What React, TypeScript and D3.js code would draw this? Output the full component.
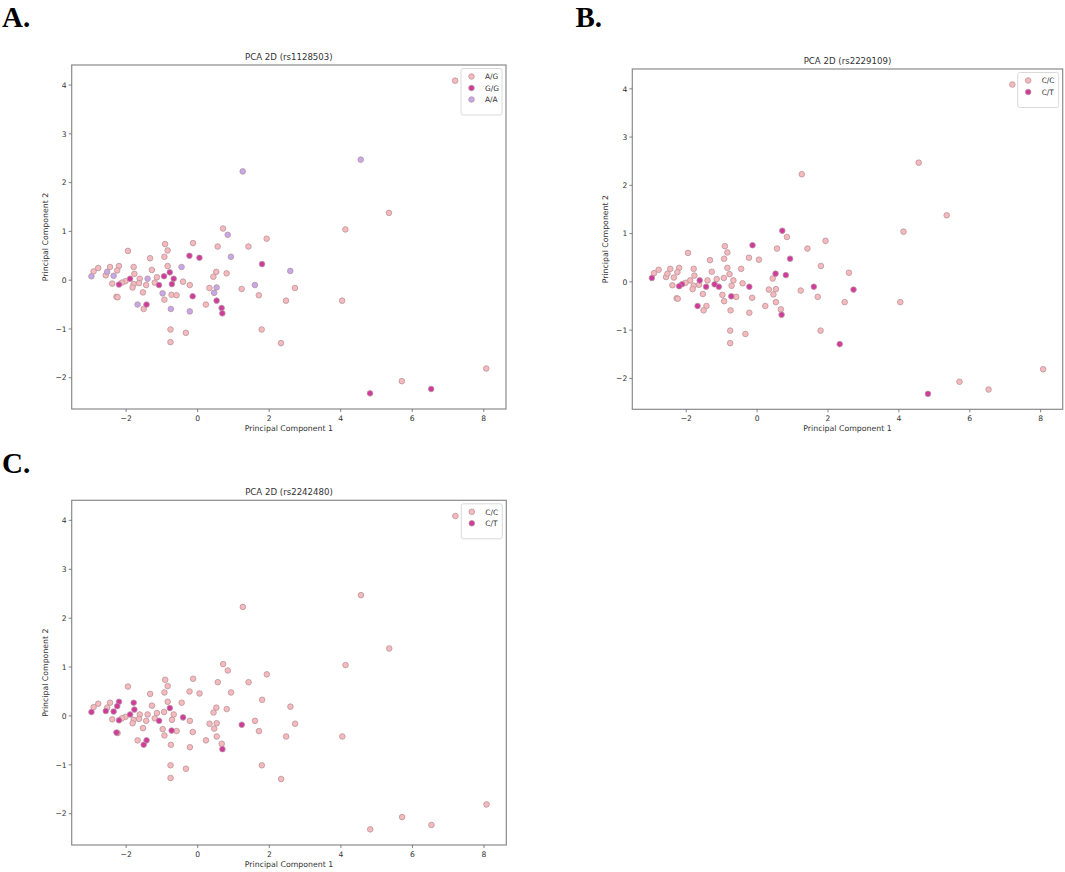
import { useMemo } from 'react';
import * as d3 from 'd3';

// PCA coordinates (same samples in every panel)
const pc1 = [
  7.2, 4.56, 1.26, 5.35, 4.13, 0.71, 0.84, 1.93, 1.42, 0.56,
  -0.13, -0.91, -0.84, -1.95, -0.93, -0.23, 0.05, -1.33, 0.93, 1.80,
  -0.45, -0.84, -1.28, 2.59, 0.52, 0.81, 0.44, -0.78, -0.94, -1.14,
  -0.67, -1.40, -1.62, -1.77, -1.79, -2.20, -2.45, -2.78, -2.91, -2.97,
  -2.57, -2.53, -2.35, -2.25, -1.89, -2.02, -2.12, -2.20, -2.39, -1.79,
  -1.82, -1.64, -1.44, -1.20, -1.08, -0.72, -0.41, -0.22, -1.53, -0.98,
  -0.73, -0.59, -0.14, -2.27, -2.24, -0.93, -1.68, -1.43, -1.51, -0.75,
  -0.22, 0.23, 0.33, 0.53, 0.46, 0.53, 0.67, 0.69, 1.23, 1.60,
  1.71, 2.47, 2.72, 4.04, -0.76, -0.33, -0.76, 1.79, 2.33, 8.07,
  5.71, 6.53, 4.82
];

const pc2 = [
  4.09, 2.47, 2.23, 1.38, 1.04, 1.06, 0.93, 0.85, 0.69, 0.69,
  0.76, 0.74, 0.61, 0.60, 0.48, 0.50, 0.46, 0.45, 0.48, 0.33,
  0.27, 0.29, 0.21, 0.19, 0.17, 0.14, 0.07, 0.16, 0.08, 0.06,
  0.03, 0.03, 0.03, 0.13, 0.27, 0.29, 0.27, 0.25, 0.18, 0.08,
  0.10, 0.17, 0.09, 0.20, 0.03, -0.02, -0.05, -0.09, -0.07, -0.08,
  -0.15, -0.06, -0.10, -0.05, -0.10, -0.08, -0.03, -0.10, -0.25, -0.27,
  -0.30, -0.31, -0.33, -0.34, -0.35, -0.40, -0.50, -0.50, -0.59, -0.59,
  -0.64, -0.50, -0.16, -0.15, -0.26, -0.42, -0.57, -0.68, -0.18, -0.10,
  -0.31, -0.42, -0.16, -0.42, -1.01, -1.08, -1.27, -1.01, -1.29, -1.81,
  -2.07, -2.23, -2.32
];

// genotype per sample, index into the labels list of each SNP
const rs1128503Labels = ['A/G', 'G/G', 'A/A'];
const rs1128503 = [
  0, 2, 2, 0, 0, 0, 2, 0, 0, 0,
  0, 0, 0, 0, 0, 1, 1, 0, 2, 1,
  2, 0, 0, 2, 0, 0, 0, 1, 1, 0,
  1, 2, 0, 0, 0, 0, 0, 0, 0, 2,
  0, 2, 2, 0, 1, 0, 0, 1, 0, 0,
  0, 0, 0, 0, 1, 1, 0, 0, 0, 2,
  0, 0, 1, 0, 0, 0, 2, 1, 0, 2,
  2, 0, 0, 2, 2, 1, 1, 1, 0, 2,
  0, 0, 0, 0, 0, 0, 0, 0, 0, 0,
  0, 1, 1
];

const rs2229109Labels = ['C/C', 'C/T'];
const rs2229109 = [
  0, 0, 0, 0, 0, 1, 0, 0, 0, 0,
  1, 0, 0, 0, 0, 0, 0, 0, 1, 0,
  0, 0, 0, 0, 1, 1, 0, 0, 0, 0,
  0, 0, 1, 0, 0, 0, 0, 0, 0, 1,
  0, 0, 0, 0, 0, 0, 1, 1, 0, 0,
  0, 0, 1, 1, 1, 0, 0, 1, 0, 0,
  1, 0, 0, 0, 0, 0, 1, 0, 0, 0,
  0, 0, 0, 0, 0, 0, 0, 1, 0, 1,
  0, 0, 1, 0, 0, 0, 0, 0, 1, 0,
  0, 0, 1
];

const rs2242480Labels = ['C/C', 'C/T'];
const rs2242480 = [
  0, 0, 0, 0, 0, 0, 0, 0, 0, 0,
  0, 0, 0, 0, 0, 0, 0, 0, 0, 0,
  0, 0, 0, 0, 0, 0, 0, 1, 0, 0,
  0, 0, 0, 1, 1, 1, 0, 0, 0, 1,
  1, 0, 1, 1, 1, 0, 0, 1, 0, 0,
  0, 0, 0, 0, 1, 0, 1, 0, 0, 0,
  1, 0, 0, 1, 0, 0, 0, 1, 1, 0,
  0, 0, 0, 0, 0, 0, 0, 1, 1, 0,
  0, 0, 0, 0, 0, 0, 0, 0, 0, 0,
  0, 0, 0
];

const xTicks = [-2, 0, 2, 4, 6, 8];
const yTicks = [-2, -1, 0, 1, 2, 3, 4];

const FILLS = ['#f6b9bd', '#cf3a9c', '#c6a8ea'];
const EDGE = '#b8969b';
const FONT = '"DejaVu Sans", sans-serif';

interface PanelProps {
  letter: string;
  letterX: number;
  letterY: number;
  title: string;
  labels: string[];
  codes: number[];
  left: number;
  top: number;
  right: number;
  bottom: number;
  yLabelX: number;
}

function Panel({ letter, letterX, letterY, title, labels, codes, left, top, right, bottom, yLabelX }: PanelProps) {
  const { x, y } = useMemo(() => {
    const [x0, x1] = d3.extent(pc1) as [number, number];
    const [y0, y1] = d3.extent(pc2) as [number, number];
    const mx = (x1 - x0) * 0.05;
    const my = (y1 - y0) * 0.05;
    return {
      x: d3.scaleLinear().domain([x0 - mx, x1 + mx]).range([left, right]),
      y: d3.scaleLinear().domain([y0 - my, y1 + my]).range([bottom, top])
    };
  }, [left, right, top, bottom]);

  const fmt = (v: number) => (v < 0 ? '\u2212' + Math.abs(v) : String(v));
  const cx = (left + right) / 2;
  const cy = (top + bottom) / 2;
  const legW = 41;
  const legH = 12 + labels.length * 11.5;
  const legX = right - legW - 4;
  const legY = top + 3.5;

  return (
    <g>
      <text x={letterX} y={letterY} fontFamily='"Liberation Serif", serif' fontWeight="bold" fontSize={29} fill="#000">
        {letter}
      </text>
      <text x={cx} y={top - 5} textAnchor="middle" fontFamily={FONT} fontSize={8.6} fill="#333">
        {title}
      </text>

      {labels.map((_, g) => (
        <g key={g}>
          {codes.map((c, i) => c === g ? (
            <circle key={i} cx={x(pc1[i])} cy={y(pc2[i])} r={2.8}
              fill={FILLS[g]} stroke={EDGE} strokeWidth={0.8} />
          ) : null)}
        </g>
      ))}

      <rect x={left} y={top} width={right - left} height={bottom - top}
        fill="none" stroke="#8a8a8a" strokeWidth={1.2} />

      {xTicks.map(t => (
        <g key={t}>
          <line x1={x(t)} x2={x(t)} y1={bottom} y2={bottom + 3} stroke="#666" strokeWidth={0.8} />
          <text x={x(t)} y={bottom + 11.5} textAnchor="middle" fontFamily={FONT} fontSize={7.6} fill="#333">
            {fmt(t)}
          </text>
        </g>
      ))}
      {yTicks.map(t => (
        <g key={t}>
          <line x1={left - 3} x2={left} y1={y(t)} y2={y(t)} stroke="#666" strokeWidth={0.8} />
          <text x={left - 5} y={y(t) + 2.7} textAnchor="end" fontFamily={FONT} fontSize={7.6} fill="#333">
            {fmt(t)}
          </text>
        </g>
      ))}

      <text x={cx} y={bottom + 22} textAnchor="middle" fontFamily={FONT} fontSize={7.8} fill="#333">
        Principal Component 1
      </text>
      <text transform={`translate(${yLabelX},${cy}) rotate(-90)`} textAnchor="middle"
        fontFamily={FONT} fontSize={7.8} fill="#333">
        Principal Component 2
      </text>

      <rect x={legX} y={legY} width={legW} height={legH} rx={2}
        fill="#fff" fillOpacity={0.85} stroke="#d0d0d0" strokeWidth={0.8} />
      {labels.map((lab, g) => (
        <g key={lab}>
          <circle cx={legX + 10.5} cy={legY + 8 + g * 11.5} r={2.8}
            fill={FILLS[g]} stroke={EDGE} strokeWidth={0.8} />
          <text x={legX + 24} y={legY + 10.7 + g * 11.5} fontFamily={FONT} fontSize={7.4} fill="#333">
            {lab}
          </text>
        </g>
      ))}
    </g>
  );
}

export default function App() {
  return (
    <svg width={1065} height={872} style={{ position: 'absolute', left: 0, top: 0, background: '#fff' }}>
      <Panel letter="A." letterX={2} letterY={26.5} title="PCA 2D (rs1128503)"
        labels={rs1128503Labels} codes={rs1128503}
        left={71.7} top={65} right={506} bottom={409} yLabelX={47.7} />
      <Panel letter="B." letterX={575.5} letterY={26.5} title="PCA 2D (rs2229109)"
        labels={rs2229109Labels} codes={rs2229109}
        left={632.3} top={69} right={1062.7} bottom={409.3} yLabelX={607.7} />
      <Panel letter="C." letterX={2} letterY={473} title="PCA 2D (rs2242480)"
        labels={rs2242480Labels} codes={rs2242480}
        left={71.7} top={500.3} right={506.3} bottom={845} yLabelX={47.7} />
    </svg>
  );
}
